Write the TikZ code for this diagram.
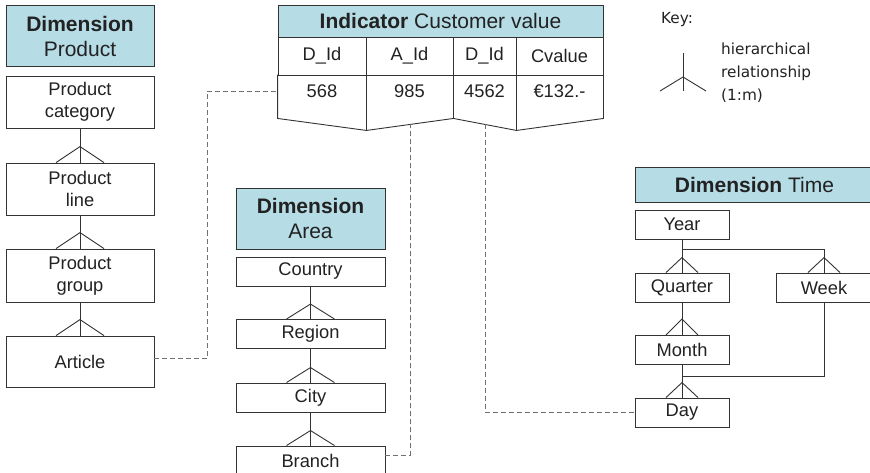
\documentclass[tikz,border=0pt]{standalone}
\usepackage{fontspec}
\setmainfont{Liberation Sans}
\newfontfamily\keyfont{DejaVu Sans}
\usetikzlibrary{calc, positioning}
\definecolor{HeadBlue}{HTML}{B6DCE6}
\definecolor{LineGray}{HTML}{333333}
\definecolor{LinkGray}{HTML}{707070}
\definecolor{InkGray}{HTML}{222222}
\newcommand{\crowfoot}[3]{\draw[rel] (#1) ++(-#2,0) -- ++(#2,-#3) -- ++(#2,#3);}

\begin{document}
\begin{tikzpicture}[x=1pt, y=-1pt,
        dimhead/.style={draw=LineGray, fill=HeadBlue, line width=0.9pt, text=InkGray,
                    align=center, inner sep=0pt, font=\fontsize{21}{25}\selectfont},
        lvlbox/.style={draw=LineGray, fill=white, line width=0.9pt, text=InkGray,
                    align=center, inner sep=0pt, font=\fontsize{18.3}{22}\selectfont},
        colcell/.style={lvlbox, minimum height=38pt},
        valcell/.style={lvlbox, draw=none, fill=none, minimum height=32pt},
        rel/.style={draw=LineGray, line width=0.9pt},
        link/.style={draw=LinkGray, line width=0.8pt, dash pattern=on 5pt off 3pt},
        keytext/.style={text=InkGray, inner sep=0pt, font=\keyfont\fontsize{15.3}{23}\selectfont}]

        \useasboundingbox (0,0) rectangle (870,473);

        % Dimension Product
        \node[dimhead, minimum width=148pt, minimum height=61pt] (prodhd) at (80,36)    {\textbf{Dimension}\\Product};
        \node[lvlbox,  minimum width=148pt, minimum height=52pt] (pcat)   at (80,102)   {Product\\category};
        \node[lvlbox,  minimum width=148pt, minimum height=52pt] (pline)  at (80,189)   {Product\\line};
        \node[lvlbox,  minimum width=148pt, minimum height=53pt] (pgroup) at (80,275.5) {Product\\group};
        \node[lvlbox,  minimum width=148pt, minimum height=51pt] (article) at (80,361.5) {Article};

        % Dimension Area
        \node[dimhead, minimum width=149pt, minimum height=61pt] (areahd)  at (310.5,218.5) {\textbf{Dimension}\\Area};
        \node[lvlbox,  minimum width=149pt, minimum height=29pt] (country) at (310.5,271.5) {Country};
        \node[lvlbox,  minimum width=149pt, minimum height=29pt] (region)  at (310.5,334)   {Region};
        \node[lvlbox,  minimum width=149pt, minimum height=29pt] (city)    at (310.5,397.5) {City};
        \node[lvlbox,  minimum width=149pt, minimum height=29pt] (branch)  at (310.5,460.5) {Branch};

        % Dimension Time
        \node[dimhead, minimum width=239pt, minimum height=35pt] (timehd)  at (754.5,184.5) {\textbf{Dimension} Time};
        \node[lvlbox,  minimum width=94pt,  minimum height=29pt] (year)    at (682,224.5) {Year};
        \node[lvlbox,  minimum width=94pt,  minimum height=29pt] (quarter) at (682,287.5) {Quarter};
        \node[lvlbox,  minimum width=94pt,  minimum height=29pt] (month)   at (682,350)   {Month};
        \node[lvlbox,  minimum width=94pt,  minimum height=29pt] (day)     at (682,412.5) {Day};
        \node[lvlbox,  minimum width=96pt,  minimum height=29pt] (week)    at (824,287.5) {Week};

        % Indicator table
        \node[dimhead, minimum width=325pt, minimum height=32pt] (indhd) at (440.5,21) {\textbf{Indicator} Customer value};
        \node[colcell, minimum width=88pt] (c11) at (322,56)   {D\_Id};
        \node[colcell, minimum width=87pt] (c12) at (409.5,56) {A\_Id};
        \node[colcell, minimum width=63pt] (c13) at (484.5,56) {D\_Id};
        \node[colcell, minimum width=87pt] (c14) at (559.5,56) {Cvalue};
        \node[valcell, minimum width=88pt] (c21) at (322,91)   {568};
        \node[valcell, minimum width=87pt] (c22) at (409.5,91) {985};
        \node[valcell, minimum width=63pt] (c23) at (484.5,91) {4562};
        \node[valcell, minimum width=87pt] (c24) at (559.5,91) {€132.-};

        % Table bottom edge
        \coordinate (z0) at ([yshift=-11pt]c21.south west);
        \coordinate (z1) at ([yshift=-23pt]c21.south east);
        \coordinate (z2) at ([yshift=-11pt]c22.south east);
        \coordinate (z3) at ([yshift=-23pt]c23.south east);
        \coordinate (z4) at ([yshift=-11pt]c24.south east);
        \draw[rel] (c21.north west) -- (z0) -- (z1) -- (z2) -- (z3) -- (z4) -- (c24.north east);
        \draw[rel] (c21.north east) -- (z1);
        \draw[rel] (c22.north east) -- (z2);
        \draw[rel] (c23.north east) -- (z3);

        % Hierarchies
        \draw[rel] (pcat.south) -- (pline.north);     \crowfoot{pline.north}{24}{16}
        \draw[rel] (pline.south) -- (pgroup.north);   \crowfoot{pgroup.north}{24}{16}
        \draw[rel] (pgroup.south) -- (article.north); \crowfoot{article.north}{24}{16}

        \draw[rel] (country.south) -- (region.north); \crowfoot{region.north}{24}{15}
        \draw[rel] (region.south) -- (city.north);    \crowfoot{city.north}{24}{15}
        \draw[rel] (city.south) -- (branch.north);    \crowfoot{branch.north}{24}{15}

        \coordinate (yj) at ($(year.south)+(0,10)$);
        \coordinate (dj) at ($(day.north)+(0,-21)$);
        \draw[rel] (year.south) -- (quarter.north);   \crowfoot{quarter.north}{16}{15}
        \draw[rel] (yj) -| (week.north);              \crowfoot{week.north}{16}{15}
        \draw[rel] (quarter.south) -- (month.north);  \crowfoot{month.north}{16}{16}
        \draw[rel] (month.south) -- (day.north);
        \draw[rel] (week.south) |- (dj);              \crowfoot{day.north}{16}{15}

        % Links to the indicator
        \coordinate (aid) at ($(z1)!0.5!(z2)$);
        \coordinate (did) at ($(z2)!0.5!(z3)$);
        \draw[link] ([yshift=3pt]article.east) -- ++(53,0) |- (c21.west);
        \draw[link] ([yshift=5pt]branch.east) -| (aid);
        \draw[link] (did) |- (day.west);

        % Key
        \node[keytext, anchor=west] (keyttl) at (661,20) {Key:};
        \coordinate (keytop)  at (683,53);
        \coordinate (keybase) at (683,91);
        \draw[rel] (keytop) -- (keybase); \crowfoot{keybase}{23}{14}
        \node[keytext, anchor=west, align=left] (keytxt) at (721,73) {hierarchical\\relationship\\(1:m)};
      \end{tikzpicture}
\end{document}
